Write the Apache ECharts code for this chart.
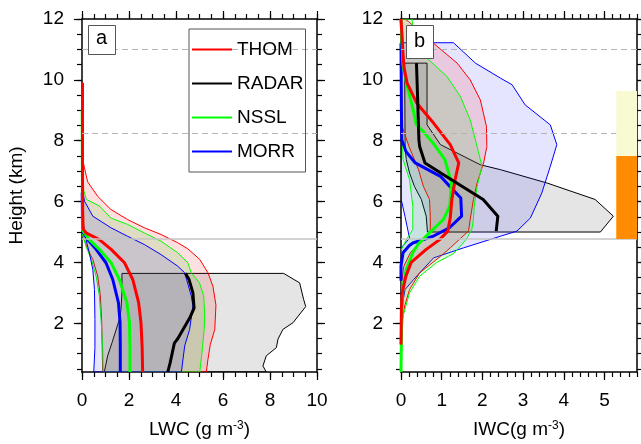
<!DOCTYPE html>
<html>
<head>
<meta charset="utf-8">
<script src="https://cdn.jsdelivr.net/npm/echarts@6/dist/echarts.min.js"></script>
<style>html,body{margin:0;padding:0;background:#fff}#main{width:641px;height:444px}</style>
</head>
<body>
<div id="main"></div>
<script>
// 数据: [值, 高度(km)]
// ---- LWC (a) ----
var lwcThomMean = [[0.02,9.9],[0.02,7.0],[0.03,5.6],[0.05,5.1],[0.17,4.97],[0.74,4.75],[1.24,4.43],[1.8,4.0],[2.16,3.44],[2.41,2.68],[2.51,2.02],[2.56,1.2],[2.58,0.4]];
var lwcNsslMean = [[0.01,9.0],[0.02,6.0],[0.03,5.05],[0.31,4.75],[0.74,4.43],[1.24,3.99],[1.59,3.44],[1.91,2.68],[2.02,2.02],[2.04,1.2],[2.04,0.4]];
var lwcMorrMean = [[0.01,6.3],[0.02,5.3],[0.05,5.0],[0.24,4.75],[0.6,4.43],[1.02,3.99],[1.31,3.44],[1.55,2.68],[1.62,2.02],[1.63,1.2],[1.63,0.4]];
var lwcRadarMean = [[4.4,3.64],[4.55,3.45],[4.72,3.0],[4.77,2.5],[4.6,2.2],[4.3,1.8],[4.08,1.5],[3.93,1.35],[3.82,0.95],[3.75,0.7],[3.65,0.4]];

var lwcThomHi = [[0.05,9.9],[0.05,7.3],[0.24,6.65],[0.67,6.17],[1.23,5.74],[1.94,5.41],[2.65,5.14],[3.36,4.92],[4.07,4.65],[4.5,4.45],[5.01,4.1],[5.36,3.66],[5.57,3.22],[5.7,2.6],[5.65,1.8],[5.46,1.3],[5.36,0.82],[5.29,0.4]];
var lwcThomLo = [[0.88,0.4],[0.86,1.2],[0.84,2.02],[0.78,2.9],[0.67,3.55],[0.46,4.1],[0.24,4.43],[0,4.97],[0,9.9]];
var lwcNsslHi = [[0.02,9.4],[0.04,6.45],[0.19,6.07],[0.75,5.85],[1.23,5.46],[1.94,5.25],[2.65,4.97],[3.36,4.7],[4.07,4.32],[4.5,3.99],[4.65,3.66],[5.0,3.33],[5.18,2.9],[5.22,2.3],[5.2,1.8],[5.1,1.0],[5.01,0.4]];
var lwcNsslLo = [[0.9,0.4],[0.88,1.2],[0.82,2.0],[0.74,2.9],[0.6,3.55],[0.4,4.1],[0.18,4.5],[0,4.97],[0,9.4]];
var lwcMorrHi = [[0.01,6.4],[0.11,6.01],[0.46,5.52],[1.23,5.14],[1.94,4.86],[2.65,4.59],[3.36,4.26],[4.07,3.88],[4.37,3.66],[4.65,2.9],[4.72,2.57],[4.58,1.8],[4.37,1.26],[4.23,0.4]];
var lwcMorrLo = [[0.5,0.4],[0.55,1.2],[0.55,2.13],[0.53,3.11],[0.46,3.77],[0.31,4.32],[0.1,4.97],[0,5.2],[0,6.4]];
var lwcRadarHi = [[8.58,3.64],[9.26,3.33],[9.43,2.79],[9.52,2.55],[8.98,2.02],[8.55,1.8],[8.34,1.48],[8.27,1.2],[7.84,0.93],[7.7,0.6],[7.84,0.4]];
var lwcRadarLo = [[0.95,0.4],[1.09,0.93],[1.28,1.37],[1.59,2.13],[1.66,2.46],[1.7,3.0],[1.7,3.64]];

// ---- IWC (b) ----
var iwcThomMean = [[0,12],[0.07,10.44],[0.15,9.89],[0.39,9.23],[0.8,8.58],[1.21,7.87],[1.42,7.27],[1.33,6.72],[1.25,6.07],[1.21,5.46],[1.15,5.03],[0.95,4.75],[0.62,4.43],[0.25,4.0],[0.12,3.55],[0.03,3.0],[0.01,2.5],[0,1.3]];
var iwcNsslMean = [[0,12],[0.05,10.49],[0.15,9.8],[0.29,9.07],[0.38,8.52],[0.55,8.3],[0.79,7.92],[1.08,7.38],[1.24,6.61],[1.2,5.85],[1.04,5.41],[0.7,4.97],[0.42,4.6],[0.29,4.32],[0.13,3.77],[0.05,3.2],[0.02,2.5],[0.01,1.5],[0,0.4]];
var iwcMorrMean = [[0,11.2],[0.01,9.0],[0.02,8.03],[0.12,7.65],[0.35,7.27],[0.97,6.83],[1.2,6.5],[1.47,6.12],[1.49,5.52],[1.19,5.14],[0.79,4.86],[0.29,4.64],[0.2,4.55],[0.05,4.32],[0,3.88],[0,3.4]];
var iwcRadarMean = [[0.38,10.55],[0.41,9.34],[0.44,8.03],[0.46,7.8],[0.59,7.27],[1.3,6.67],[2.02,6.07],[2.38,5.52],[2.34,5.03]];

var iwcThomHi = [[0.1,12],[0.19,11.91],[0.8,11.2],[1.38,10.55],[1.7,10.0],[1.95,9.34],[2.1,8.47],[2.11,7.81],[2.03,7.27],[1.87,6.61],[1.78,6.07],[1.7,5.41],[1.66,5.03],[1.21,4.48],[0.97,4.2],[0.46,3.66],[0.21,3.11],[0.09,2.57],[0.01,1.9],[0,1.3]];
var iwcThomLo = [[0,1.3],[0,3.2],[0.07,3.88],[0.23,4.32],[0.72,5.03],[0.72,5.52],[0.7,6.07],[0.55,6.5],[0.43,7.05],[0.2,7.8],[0.02,8.5],[0,12]];
var iwcNsslHi = [[0.27,12],[0.31,11.53],[0.64,10.71],[1.13,10.11],[1.46,9.45],[1.7,8.69],[1.87,7.81],[1.99,7.16],[1.87,6.5],[1.8,5.85],[1.78,5.41],[1.74,5.08],[1.6,4.75],[1.3,4.3],[0.87,3.99],[0.46,3.55],[0.21,3.0],[0.05,2.24],[0.01,1.2],[0,0.4]];
var iwcNsslLo = [[0,0.4],[0,4.4],[0.13,4.75],[0.29,5.08],[0.29,5.85],[0.21,6.72],[0.05,7.38],[0.01,9],[0,12]];
var iwcMorrHi = [[0,11.22],[1.29,11.22],[1.83,10.55],[2.44,10.06],[2.73,9.84],[3.05,9.18],[3.67,8.52],[3.83,7.87],[3.67,7.16],[3.46,6.28],[3.18,5.46],[2.85,5.03],[2.44,4.86],[1.54,4.48],[0.8,4.15],[0.31,3.44],[0.1,3.11],[0.02,2.5],[0,2.0]];
var iwcMorrLo = [[0,2.0],[0,4.45],[0.05,4.55],[0.21,4.8],[0.1,5.5],[0,6.1],[0,11.22]];
var iwcRadarHi = [[0.09,10.55],[0.64,10.55],[0.64,8.52],[0.97,7.87],[1.95,7.21],[2.44,7.05],[3.59,6.61],[4.77,6.07],[5.22,5.52],[4.9,5.0]];
var iwcRadarLo = [[0.65,5.0],[0.62,5.52],[0.5,6.07],[0.33,6.5],[0.21,6.94],[0.13,7.38],[0.1,7.8]];

// 右侧色条 [x0, x1, 底, 顶]
var phaseBars = [[5.29,5.8,4.77,7.5],[5.29,5.8,7.5,9.63]];
var phaseColors = ['#ff8c00','#fafad2'];

// 参考高度线
var refLevels = [11.02, 8.24, 4.77];

// 刻度
var yMajor = [2,4,6,8,10,12];
var lwcMajor = [0,2,4,6,8,10];
var iwcMajor = [0,1,2,3,4,5];

var legendNames = ['THOM', 'RADAR', 'NSSL', 'MORR'];
var legendColors = ['#ff0000', '#000000', '#00ff00', '#0000ff'];

function steps(a, b, s) {
    var out = [];
    for (var v = a; v <= b + 1e-9; v += s) out.push(Math.round(v * 100) / 100);
    return out;
}

var FONT = 'Liberation Sans';
var myChart = echarts.init(document.getElementById('main'));

function bandSeries(name, hi, lo, axisIdx, fill, stroke) {
    var pts = hi.concat(lo);
    return {
        name: name, type: 'custom', xAxisIndex: axisIdx * 4, yAxisIndex: axisIdx * 4,
        data: pts, silent: true, clip: true, z: 2,
        renderItem: function (params, api) {
            if (params.dataIndex !== 0) return null;
            return {
                type: 'polygon',
                shape: { points: pts.map(function (p) { return api.coord(p); }) },
                style: { fill: fill, stroke: stroke, lineWidth: 1 }
            };
        }
    };
}

function meanSeries(name, pts, axisIdx, color, width) {
    return {
        name: name, type: 'line', xAxisIndex: axisIdx * 4, yAxisIndex: axisIdx * 4,
        data: pts, symbol: 'none', silent: true, z: 3,
        lineStyle: { color: color, width: width },
        itemStyle: { color: color }
    };
}

function markLines() {
    return {
        silent: true, symbol: ['none', 'none'], label: { show: false }, animation: false,
        data: [
            { yAxis: refLevels[0], lineStyle: { color: '#b4b4b4', width: 1, type: [6, 4] } },
            { yAxis: refLevels[1], lineStyle: { color: '#b4b4b4', width: 1, type: [6, 4] } },
            { yAxis: refLevels[2], lineStyle: { color: '#c4c4c4', width: 1.5, type: 'solid' } }
        ]
    };
}

var axisLine = { onZero: false, lineStyle: { color: '#000', width: 1.5 } };
var tickStyle = { color: '#000', width: 1.2 };

function xAxesFor(grid, max, major, minorStep, name) {
    var base = { type: 'value', gridIndex: grid, min: 0, max: max, splitLine: { show: false } };
    var minors = steps(0, max, minorStep);
    return [
        Object.assign({}, base, {
            position: 'bottom', axisLine: axisLine,
            axisTick: { customValues: major, length: 8, lineStyle: tickStyle },
            axisLabel: { customValues: major, fontSize: 19, color: '#000', margin: 19, fontFamily: FONT },
            name: name, nameLocation: 'middle', nameGap: 48,
            nameTextStyle: { fontSize: 19, color: '#000', fontFamily: FONT,
                rich: { sup: { fontSize: 12, verticalAlign: 'top', color: '#000', fontFamily: FONT } } }
        }),
        Object.assign({}, base, {
            position: 'bottom', axisLine: { show: false, onZero: false },
            axisTick: { customValues: minors, length: 5, lineStyle: tickStyle },
            axisLabel: { show: false }
        }),
        Object.assign({}, base, {
            position: 'top', axisLine: axisLine,
            axisTick: { customValues: major, length: 8, lineStyle: tickStyle },
            axisLabel: { show: false }
        }),
        Object.assign({}, base, {
            position: 'top', axisLine: { show: false, onZero: false },
            axisTick: { customValues: minors, length: 5, lineStyle: tickStyle },
            axisLabel: { show: false }
        })
    ];
}

function yAxesFor(grid, name) {
    var base = { type: 'value', gridIndex: grid, min: 0.4, max: 12, splitLine: { show: false } };
    var minors = steps(0.5, 12, 0.5);
    var left = Object.assign({}, base, {
        position: 'left', axisLine: axisLine,
        axisTick: { customValues: yMajor, length: 8, lineStyle: tickStyle },
        axisLabel: { customValues: yMajor, fontSize: 19, color: '#000', margin: 18, fontFamily: FONT }
    });
    if (name) {
        left.name = name;
        left.nameLocation = 'middle';
        left.nameGap = 56;
        left.nameTextStyle = { fontSize: 19, color: '#000', fontFamily: FONT };
    }
    return [
        left,
        Object.assign({}, base, {
            position: 'left', axisLine: { show: false, onZero: false },
            axisTick: { customValues: minors, length: 5, lineStyle: tickStyle },
            axisLabel: { show: false }
        }),
        Object.assign({}, base, {
            position: 'right', axisLine: axisLine,
            axisTick: { customValues: yMajor, length: 8, lineStyle: tickStyle },
            axisLabel: { show: false }
        }),
        Object.assign({}, base, {
            position: 'right', axisLine: { show: false, onZero: false },
            axisTick: { customValues: minors, length: 5, lineStyle: tickStyle },
            axisLabel: { show: false }
        })
    ];
}

// 参考线挂在雷达区间上，不影响图例
var radarBandA = bandSeries('RADAR a', lwcRadarHi, lwcRadarLo, 0, 'rgba(0,0,0,0.1)', '#000');
radarBandA.markLine = markLines();
var radarBandB = bandSeries('RADAR b', iwcRadarHi, iwcRadarLo, 1, 'rgba(0,0,0,0.1)', '#000');
radarBandB.markLine = markLines();

option = {
    animation: false,
    backgroundColor: '#fff',
    textStyle: { fontFamily: FONT },
    grid: [
        { left: 82, top: 19, width: 235, height: 354 },
        { left: 401, top: 19, width: 236, height: 354 }
    ],
    xAxis: xAxesFor(0, 10, lwcMajor, 0.5, 'LWC (g m{sup|-3})').concat(
           xAxesFor(1, 5.8, iwcMajor, 0.2, 'IWC(g m{sup|-3})')),
    yAxis: yAxesFor(0, 'Height (km)').concat(yAxesFor(1, null)),
    legend: {
        data: legendNames.map(function (n, i) {
            return { name: n, itemStyle: { color: legendColors[i], borderWidth: 0 } };
        }),
        icon: 'rect',
        z: 50,
        orient: 'vertical', left: 189, top: 29,
        itemWidth: 40, itemHeight: 2, itemGap: 13,
        padding: [10, 2, 10, 3],
        borderColor: '#555', borderWidth: 1,
        itemStyle: { borderWidth: 0 },
        textStyle: { fontSize: 19, color: '#000', fontFamily: FONT, lineHeight: 21 },
        selectedMode: false
    },
    graphic: [
        { type: 'rect', left: 88, top: 25, z: 100, shape: { width: 27, height: 29 }, style: { fill: '#fff', stroke: '#555', lineWidth: 1 } },
        { type: 'text', x: 101.5, y: 38, z: 101, style: { text: 'a', font: '20px Liberation Sans', fill: '#000', align: 'center', verticalAlign: 'middle' } },
        { type: 'rect', left: 406, top: 25, z: 100, shape: { width: 27, height: 33 }, style: { fill: '#fff', stroke: '#555', lineWidth: 1 } },
        { type: 'text', x: 419.5, y: 41, z: 101, style: { text: 'b', font: '20px Liberation Sans', fill: '#000', align: 'center', verticalAlign: 'middle' } }
    ],
    series: [
        // (a)
        radarBandA,
        bandSeries('THOM a', lwcThomHi, lwcThomLo, 0, 'rgba(255,0,0,0.12)', '#ff0000'),
        bandSeries('NSSL a', lwcNsslHi, lwcNsslLo, 0, 'rgba(0,200,0,0.12)', '#00ff00'),
        bandSeries('MORR a', lwcMorrHi, lwcMorrLo, 0, 'rgba(0,0,255,0.1)', '#0000ff'),
        meanSeries('MORR', lwcMorrMean, 0, '#0000ff', 3),
        meanSeries('NSSL', lwcNsslMean, 0, '#00ff00', 3),
        meanSeries('THOM', lwcThomMean, 0, '#ff0000', 3),
        meanSeries('RADAR', lwcRadarMean, 0, '#000', 3),
        // (b)
        radarBandB,
        bandSeries('MORR b', iwcMorrHi, iwcMorrLo, 1, 'rgba(0,0,255,0.1)', '#0000ff'),
        bandSeries('THOM b', iwcThomHi, iwcThomLo, 1, 'rgba(255,0,0,0.12)', '#ff0000'),
        bandSeries('NSSL b', iwcNsslHi, iwcNsslLo, 1, 'rgba(0,200,0,0.12)', '#00ff00'),
        meanSeries('MORR', iwcMorrMean, 1, '#0000ff', 3),
        meanSeries('NSSL', iwcNsslMean, 1, '#00ff00', 3),
        meanSeries('THOM', iwcThomMean, 1, '#ff0000', 3),
        meanSeries('RADAR', iwcRadarMean, 1, '#000', 3),
        {
            name: 'phase', type: 'custom', xAxisIndex: 4, yAxisIndex: 4, z: 10, silent: true,
            data: phaseBars,
            renderItem: function (params, api) {
                var p0 = api.coord([api.value(0), api.value(3)]);
                var p1 = api.coord([api.value(1), api.value(2)]);
                return { type: 'rect', shape: { x: p0[0], y: p0[1], width: p1[0] - p0[0], height: p1[1] - p0[1] },
                         style: { fill: phaseColors[params.dataIndex] } };
            }
        }
    ]
};

myChart.setOption(option);
window.onresize = myChart.resize;
</script>
</body>
</html>
